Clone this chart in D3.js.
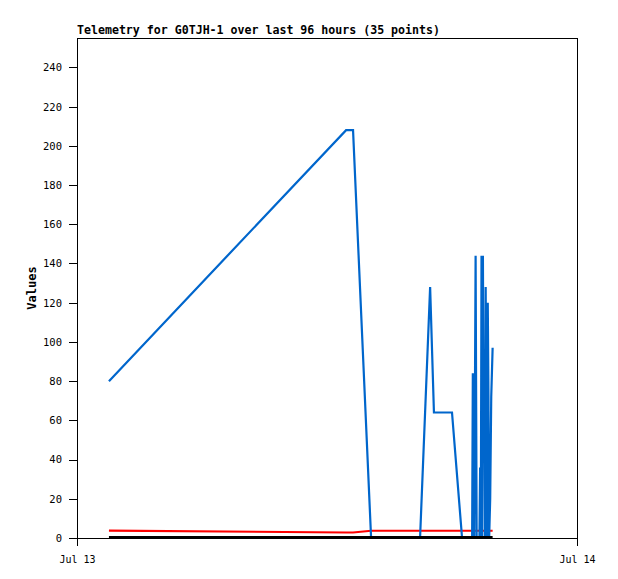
<!DOCTYPE html>
<html>
<head>
<meta charset="utf-8">
<script src="https://cdn.jsdelivr.net/npm/d3@7"></script>
<style>
  body { margin: 0; background: #fff; }
  text { font-family: "DejaVu Sans Mono", monospace; }
</style>
</head>
<body>
<div id="chart"></div>
<script>
// Sample times (Jul 13) and the three telemetry channels
const times = ["01:32", "12:55", "13:15", "14:07", "15:01", "15:45", "16:28", "16:57", "17:08", "18:00",
               "18:29", "18:58", "19:00", "19:02", "19:04", "19:08", "19:11", "19:19", "19:21", "19:23",
               "19:25", "19:27", "19:29", "19:31", "19:33", "19:35", "19:37", "19:39", "19:41", "19:43",
               "19:45", "19:47", "19:50", "19:53", "19:57"];
const blueValues = [80, 208, 208, 0, 0, 0, 0, 128, 64, 64,
                    0, 0, 84, 28, 0, 144, 0, 0, 36, 0,
                    144, 0, 144, 60, 72, 0, 128, 48, 0, 120,
                    72, 0, 20, 72, 97];
const redValues = [3.8, 2.8, 2.8, 3.7, 3.7, 3.7, 3.7, 3.7, 3.7, 3.7,
                   3.7, 3.7, 3.7, 3.7, 3.7, 3.7, 3.7, 3.7, 3.7, 3.7,
                   3.7, 3.7, 3.7, 3.7, 3.7, 3.7, 3.7, 3.7, 3.7, 3.7,
                   3.7, 3.7, 3.7, 3.7, 3.7];
const blackValues = [0.5, 0.5, 0.5, 0.5, 0.5, 0.5, 0.5, 0.5, 0.5, 0.5,
                     0.5, 0.5, 0.5, 0.5, 0.5, 0.5, 0.5, 0.5, 0.5, 0.5,
                     0.5, 0.5, 0.5, 0.5, 0.5, 0.5, 0.5, 0.5, 0.5, 0.5,
                     0.5, 0.5, 0.5, 0.5, 0.5];
const yTicks = [0, 20, 40, 60, 80, 100, 120, 140, 160, 180, 200, 220, 240];
const xTickLabels = ["Jul 13", "Jul 14"];
const titleText = "Telemetry for G0TJH-1 over last 96 hours (35 points)";

const width = 618;
const height = 579;
const margin = { top: 38, right: 41, bottom: 41, left: 77 };

const parseTime = d3.timeParse("%Y-%m-%d %H:%M");
const dates = times.map(t => parseTime("2023-07-13 " + t));
const dayStart = parseTime("2023-07-13 00:00");
const dayEnd = parseTime("2023-07-14 00:00");

const svg = d3.select("#chart")
    .append("svg")
    .attr("width", width)
    .attr("height", height);

svg.append("rect").attr("width", width).attr("height", height).attr("fill", "#fff");

const x = d3.scaleTime()
    .domain([dayStart, dayEnd])
    .range([margin.left, width - margin.right]);

const y = d3.scaleLinear()
    .domain([0, 255])
    .range([height - margin.bottom, margin.top]);

// Series (red first, blue over it, black on top)
const line = d3.line()
    .x((d, i) => x(dates[i]))
    .y(d => y(d));

const series = [
    { values: redValues, color: "#ff0000" },
    { values: blueValues, color: "#0066cc" },
    { values: blackValues, color: "#000000" }
];

svg.selectAll(".series")
    .data(series)
    .enter()
    .append("path")
    .attr("class", "series")
    .attr("d", d => line(d.values))
    .attr("fill", "none")
    .attr("stroke", d => d.color)
    .attr("stroke-width", 2.2)
    .attr("stroke-linejoin", "miter");

// Frame
svg.append("rect")
    .attr("x", margin.left)
    .attr("y", margin.top)
    .attr("width", width - margin.left - margin.right)
    .attr("height", height - margin.top - margin.bottom)
    .attr("fill", "none")
    .attr("stroke", "#000")
    .attr("shape-rendering", "crispEdges");

// Y axis
const yAxis = svg.append("g")
    .attr("transform", `translate(${margin.left}, 0)`)
    .call(d3.axisLeft(y).tickValues(yTicks).tickSize(8).tickPadding(7));
yAxis.select(".domain").remove();
yAxis.selectAll("line").attr("shape-rendering", "crispEdges");
yAxis.selectAll("text").attr("font-family", "DejaVu Sans Mono").attr("font-size", 10.5).attr("fill", "#000");

// X axis
const xAxis = svg.append("g")
    .attr("transform", `translate(0, ${height - margin.bottom})`)
    .call(d3.axisBottom(x).tickValues([dayStart, dayEnd]).tickFormat((d, i) => xTickLabels[i]).tickSize(8).tickPadding(10));
xAxis.select(".domain").remove();
xAxis.selectAll("line").attr("shape-rendering", "crispEdges");
xAxis.selectAll("text").attr("font-family", "DejaVu Sans Mono").attr("font-size", 10).attr("fill", "#000");

// Title
svg.append("text")
    .attr("x", margin.left)
    .attr("y", 34)
    .attr("font-size", 11.6)
    .attr("font-weight", "bold")
    .text(titleText);

// Y label
svg.append("text")
    .attr("transform", `translate(36, ${(margin.top + height - margin.bottom) / 2}) rotate(-90)`)
    .attr("text-anchor", "middle")
    .attr("font-size", 12)
    .attr("font-weight", "bold")
    .text("Values");
</script>
</body>
</html>
